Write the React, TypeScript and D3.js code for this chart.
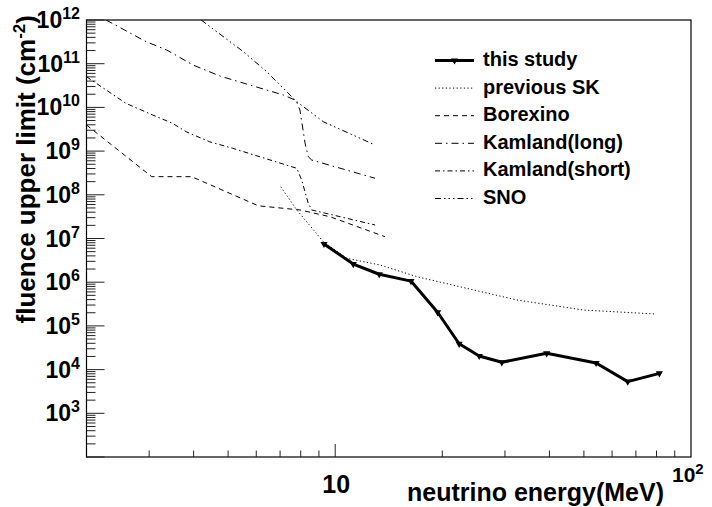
import React, { useEffect, useRef } from "react";
import * as d3 from "d3";

const W = 712;
const H = 507;
const frame = { left: 86.5, right: 691, top: 20, bottom: 457 };

// this study
const studyE = [9.3, 11.24, 13.3, 16.33, 19.4, 22.3, 25.4, 29.4, 39.3, 54.1, 66.4, 81.5];
const studyF = [7.5e6, 2.6e6, 1.52e6, 1.06e6, 2.05e5, 3.9e4, 2.05e4, 1.47e4, 2.36e4, 1.42e4, 5.3e3, 8.2e3];

// previous SK
const skE = [7.03, 7.8, 9.26, 10.77, 13.36, 16.95, 23.4, 32.4, 49.8, 79.7];
const skF = [1.53e8, 4.5e7, 8.45e6, 3.52e6, 2.48e6, 1.34e6, 7.25e5, 3.92e5, 2.31e5, 1.87e5];

// Borexino
const borexE = [2.0, 3.05, 3.95, 6.08, 7.96, 9.67, 13.8];
const borexF = [3.96e9, 2.6e8, 2.6e8, 5.6e7, 4.5e7, 3.15e7, 1.1e7];

// Kamland(long)
const kamLongE = [2.27, 2.94, 3.36, 3.99, 4.75, 7.15, 7.76, 7.96, 8.23, 8.4, 8.59, 12.94];
const kamLongF = [1e12, 3.2e11, 2.06e11, 9.3e10, 5.2e10, 1.92e10, 1.44e10, 8.7e9, 1.5e9, 7.45e8, 6.25e8, 2.39e8];

// Kamland(short)
const kamShortE = [2.0, 2.58, 3.07, 3.49, 3.81, 4.43, 5.15, 7.8, 8.05, 8.4, 8.59, 12.94];
const kamShortF = [5.04e10, 1.24e10, 6.7e9, 4.33e9, 2.78e9, 1.64e9, 1.16e9, 4.04e8, 2.18e8, 6.4e7, 4.5e7, 2.04e7];

// SNO
const snoE = [4.2, 5.52, 6.42, 7.15, 7.8, 9.26, 12.94];
const snoF = [1e12, 1.88e11, 6.56e10, 2.74e10, 1.35e10, 4.7e9, 1.38e9];

const legendNames = ["this study", "previous SK", "Borexino", "Kamland(long)", "Kamland(short)", "SNO"];
const yDecades = [2, 3, 4, 5, 6, 7, 8, 9, 10, 11, 12];

const FONT = "'Liberation Sans', Arial, Helvetica, sans-serif";

export default function App() {
  const ref = useRef<SVGSVGElement>(null);

  useEffect(() => {
    const svg = d3.select(ref.current);
    svg.selectAll("*").remove();

    const x = d3.scaleLog().domain([2, 100]).range([frame.left, frame.right]);
    const y = d3.scaleLog().domain([1e2, 1e12]).range([frame.bottom, frame.top]);

    svg.append("defs").append("clipPath").attr("id", "plotclip")
      .append("rect")
      .attr("x", frame.left).attr("y", frame.top)
      .attr("width", frame.right - frame.left).attr("height", frame.bottom - frame.top);

    // frame
    svg.append("rect")
      .attr("x", frame.left).attr("y", frame.top)
      .attr("width", frame.right - frame.left).attr("height", frame.bottom - frame.top)
      .attr("fill", "none").attr("stroke", "#000").attr("stroke-width", 1.2);

    // y ticks
    const yt = svg.append("g").attr("stroke", "#222").attr("stroke-width", 1);
    yDecades.forEach((k) => {
      for (let m = 1; m <= 9; m++) {
        const v = m * Math.pow(10, k);
        if (v > 1e12) break;
        const py = y(v);
        yt.append("line")
          .attr("x1", frame.left).attr("x2", frame.left + (m === 1 ? 18 : 9))
          .attr("y1", py).attr("y2", py);
      }
    });

    // x ticks
    const xt = svg.append("g").attr("stroke", "#222").attr("stroke-width", 1);
    [3, 4, 5, 6, 7, 8, 9, 10, 20, 30, 40, 50, 60, 70, 80, 90].forEach((v) => {
      const px = x(v);
      xt.append("line")
        .attr("x1", px).attr("x2", px)
        .attr("y1", frame.bottom).attr("y2", frame.bottom - (v === 10 ? 13 : 6.5));
    });

    // y tick labels
    yDecades.slice(1).forEach((k) => {
      const t = svg.append("text")
        .attr("x", 80).attr("y", y(Math.pow(10, k)) + 8)
        .attr("text-anchor", "end")
        .attr("font-family", FONT).attr("font-weight", "bold").attr("font-size", 23);
      t.append("tspan").text("10");
      t.append("tspan").attr("font-size", 16).attr("dy", -9).text(String(k));
    });

    // x tick labels
    svg.append("text")
      .attr("x", x(10) + 1).attr("y", 493)
      .attr("text-anchor", "middle")
      .attr("font-family", FONT).attr("font-weight", "bold").attr("font-size", 25)
      .text("10");
    const t2 = svg.append("text")
      .attr("x", 672).attr("y", 482)
      .attr("font-family", FONT).attr("font-weight", "bold").attr("font-size", 21);
    t2.append("tspan").text("10");
    t2.append("tspan").attr("font-size", 15).attr("dy", -8).text("2");

    // axis titles
    svg.append("text")
      .attr("x", 664).attr("y", 501)
      .attr("text-anchor", "end")
      .attr("font-family", FONT).attr("font-weight", "bold").attr("font-size", 25)
      .text("neutrino energy(MeV)");
    const yt2 = svg.append("text")
      .attr("transform", "translate(35,15) rotate(-90)")
      .attr("text-anchor", "end")
      .attr("font-family", FONT).attr("font-weight", "bold").attr("font-size", 26);
    yt2.append("tspan").text("fluence upper limit (cm");
    yt2.append("tspan").attr("font-size", 17).attr("dy", -10).text("-2");
    yt2.append("tspan").attr("dy", 10).text(")");

    const line = d3.line<[number, number]>().x((d) => x(d[0])).y((d) => y(d[1]));
    const pairs = (es: number[], fs: number[]) => es.map((e, i) => [e, fs[i]] as [number, number]);

    const series = [
      { d: pairs(skE, skF), dash: "1.2 2.4", w: 1 },
      { d: pairs(borexE, borexF), dash: "5 4", w: 1 },
      { d: pairs(kamLongE, kamLongF), dash: "7 4 1.5 4", w: 1 },
      { d: pairs(kamShortE, kamShortF), dash: "5 3 1.5 3", w: 1 },
      { d: pairs(snoE, snoF), dash: "6 3 1.5 3 1.5 3 1.5 3", w: 1 },
    ];

    const plot = svg.append("g").attr("clip-path", "url(#plotclip)");
    series.forEach((s) => {
      plot.append("path")
        .attr("d", line(s.d))
        .attr("fill", "none").attr("stroke", "#000")
        .attr("stroke-width", s.w).attr("stroke-dasharray", s.dash);
    });

    const study = pairs(studyE, studyF);
    plot.append("path")
      .attr("d", line(study))
      .attr("fill", "none").attr("stroke", "#000").attr("stroke-width", 3)
      .attr("stroke-linejoin", "round");
    const tri = d3.symbol().type(d3.symbolTriangle).size(22);
    plot.selectAll("path.mk").data(study).enter().append("path")
      .attr("class", "mk")
      .attr("d", tri())
      .attr("transform", (d) => `translate(${x(d[0])},${y(d[1])}) rotate(180)`)
      .attr("fill", "#000");

    // legend
    const styles = [
      { dash: "", w: 3 },
      { dash: "1.2 2.4", w: 1 },
      { dash: "5 4", w: 1 },
      { dash: "7 4 1.5 4", w: 1 },
      { dash: "5 3 1.5 3", w: 1 },
      { dash: "6 3 1.5 3 1.5 3 1.5 3", w: 1 },
    ];
    const lg = svg.append("g");
    legendNames.forEach((name, i) => {
      const by = 66 + i * 27.6;
      lg.append("line")
        .attr("x1", 435).attr("x2", 474)
        .attr("y1", by - 5.5).attr("y2", by - 5.5)
        .attr("stroke", "#000").attr("stroke-width", styles[i].w)
        .attr("stroke-dasharray", styles[i].dash);
      if (i === 0) {
        lg.append("path").attr("d", tri())
          .attr("transform", `translate(454.5,${by - 5.5}) rotate(180)`)
          .attr("fill", "#000");
      }
      lg.append("text")
        .attr("x", 483).attr("y", by)
        .attr("font-family", FONT).attr("font-weight", "bold").attr("font-size", 20)
        .text(name);
    });
  }, []);

  return (
    <svg
      ref={ref}
      width={W}
      height={H}
      style={{ position: "absolute", left: 0, top: 0, background: "#fff" }}
    />
  );
}
